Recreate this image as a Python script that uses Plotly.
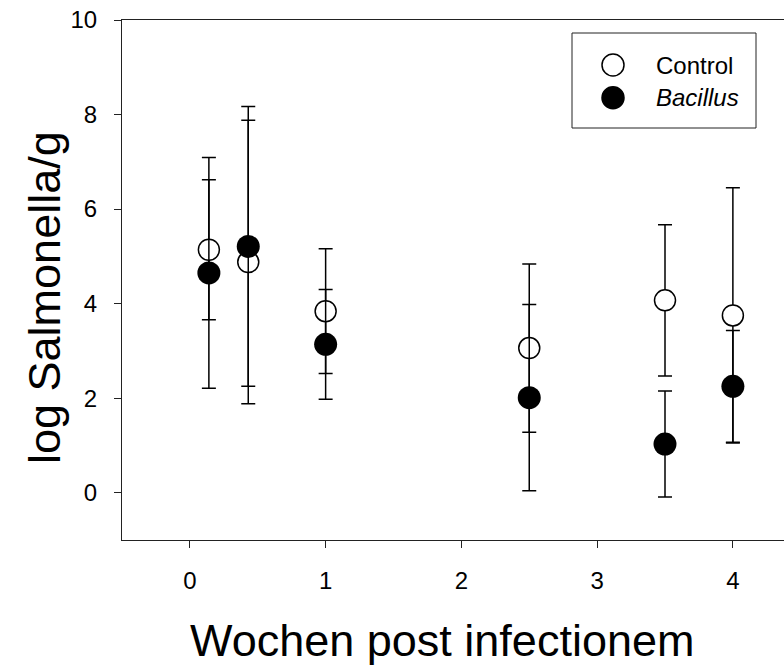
import plotly.graph_objects as go

# Data (weeks post infection)
weeks = [0.14, 0.43, 1.0, 2.5, 3.5, 4.0]
control_mean = [5.14, 4.88, 3.84, 3.06, 4.07, 3.75]
control_err = [1.48, 3.00, 1.32, 1.78, 1.60, 2.70]
bacillus_mean = [4.65, 5.21, 3.14, 2.01, 1.03, 2.25]
bacillus_err = [2.44, 2.96, 1.16, 1.97, 1.12, 1.18]

x_ticks = [0, 1, 2, 3, 4]
y_ticks = [0, 2, 4, 6, 8, 10]

W, H = 784, 667
L, R, T, B = 122, 0, 20, 127
pw, ph = W - L - R, H - T - B

def px(xp):
    return (xp - L) / pw

def py(yp):
    return (H - B - yp) / ph

FONT = "Arial, Liberation Sans, sans-serif"

fig = go.Figure()
fig.add_trace(go.Scatter(
    x=weeks, y=control_mean, mode="markers", name="Control",
    error_y=dict(type="data", array=control_err, visible=True,
                 color="black", thickness=1.5, width=7),
    marker=dict(symbol="circle", size=21, color="white",
                line=dict(color="black", width=1.5)),
    showlegend=False,
))
fig.add_trace(go.Scatter(
    x=weeks, y=bacillus_mean, mode="markers", name="Bacillus",
    error_y=dict(type="data", array=bacillus_err, visible=True,
                 color="black", thickness=1.5, width=7),
    marker=dict(symbol="circle", size=23, color="black",
                line=dict(color="black", width=0)),
    showlegend=False,
))

x0 = -0.5
x1 = x0 + pw / 135.75

fig.update_layout(
    width=W, height=H,
    margin=dict(l=L, r=R, t=T, b=B, pad=0),
    paper_bgcolor="white", plot_bgcolor="white",
    font=dict(family=FONT, size=24, color="black"),
    xaxis=dict(range=[x0, x1], tickvals=x_ticks, ticks="outside", ticklen=7,
               tickwidth=1.2, tickcolor="#222", showline=True, linecolor="#222",
               linewidth=1.2, mirror=True, showgrid=False, zeroline=False,
               tickfont=dict(size=24, family=FONT), ticklabelstandoff=12),
    yaxis=dict(range=[-1, 10], tickvals=y_ticks, ticks="outside", ticklen=7,
               tickwidth=1.2, tickcolor="#222", showline=True, linecolor="#222",
               linewidth=1.2, showgrid=False, zeroline=False,
               tickfont=dict(size=24, family=FONT), ticklabelstandoff=12),
)

# Axis titles
fig.add_annotation(text="Wochen post infectionem", xref="paper", yref="paper",
                   x=px(442), y=py(640), showarrow=False,
                   font=dict(size=45, family=FONT), xanchor="center", yanchor="middle")
fig.add_annotation(text="log Salmonella/g", xref="paper", yref="paper",
                   x=px(44), y=py(298), showarrow=False, textangle=-90,
                   font=dict(size=45, family=FONT), xanchor="center", yanchor="middle")

# Legend (manual)
fig.add_shape(type="rect", xref="paper", yref="paper",
              x0=px(572), x1=px(756), y0=py(128), y1=py(33),
              line=dict(color="#222", width=1), fillcolor="white", layer="above")
for yy, fill in [(65, "white"), (97.7, "black")]:
    fig.add_shape(type="circle", xref="paper", yref="paper",
                  xsizemode="pixel", ysizemode="pixel",
                  xanchor=px(613), yanchor=py(yy),
                  x0=-11, x1=11, y0=-11, y1=11,
                  line=dict(color="black", width=1.5), fillcolor=fill, layer="above")
fig.add_annotation(text="Control", xref="paper", yref="paper", x=px(654), y=py(65),
                   showarrow=False, xanchor="left", yanchor="middle",
                   font=dict(size=24, family=FONT))
fig.add_annotation(text="<i>Bacillus</i>", xref="paper", yref="paper", x=px(654), y=py(97.7),
                   showarrow=False, xanchor="left", yanchor="middle",
                   font=dict(size=24, family=FONT))

fig.write_html("out.html")
